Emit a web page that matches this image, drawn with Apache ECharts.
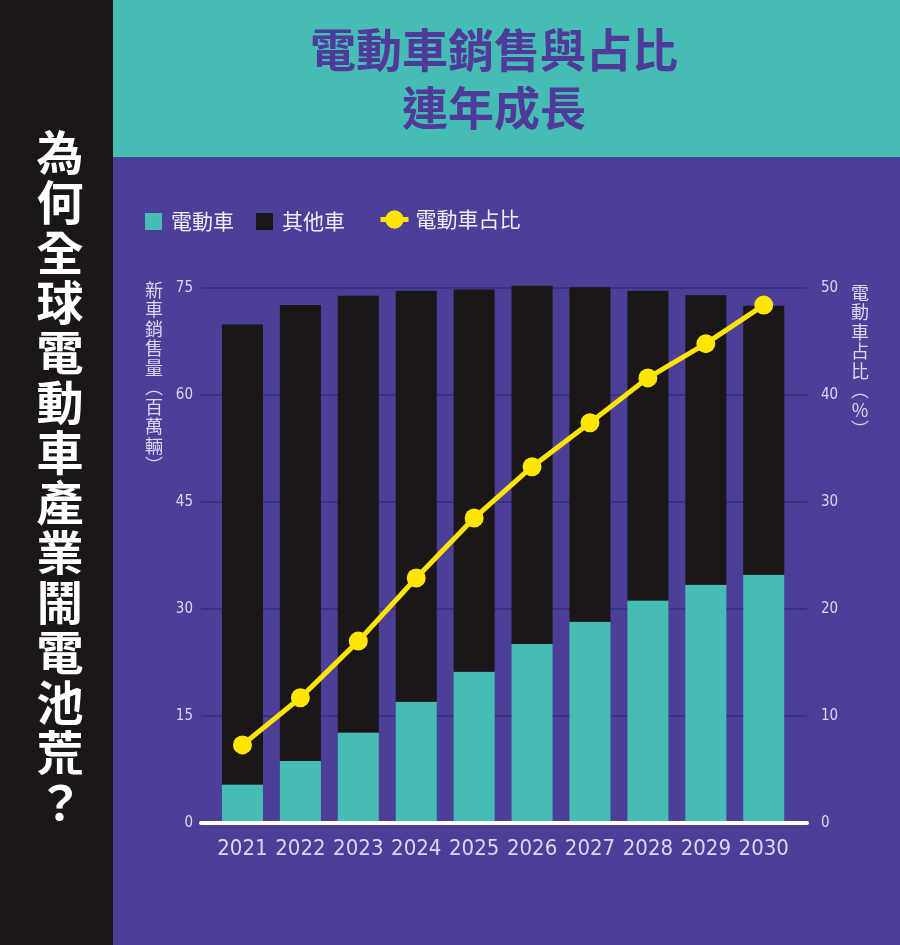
<!DOCTYPE html>
<html>
<head>
<meta charset="utf-8">
<script src="https://cdn.jsdelivr.net/npm/echarts@6/dist/echarts.min.js"></script>
<style>
  html, body { margin: 0; padding: 0; background: #4b3f98; }
  #chart { width: 900px; height: 945px; }
</style>
</head>
<body>
<div id="chart"></div>
<script>
// ---- Data ----
var years = ['2021', '2022', '2023', '2024', '2025', '2026', '2027', '2028', '2029', '2030'];
var evSales = [5.4, 8.7, 12.7, 17.0, 21.2, 25.1, 28.2, 31.2, 33.4, 34.8];      // 電動車 (百萬輛)
var otherSales = [64.5, 63.9, 61.2, 57.6, 53.6, 50.2, 46.9, 43.4, 40.6, 37.7]; // 其他車 (百萬輛)
var evShare = [7.3, 11.7, 17.0, 22.9, 28.5, 33.3, 37.4, 41.6, 44.8, 48.4];     // 電動車占比 (%)
var leftTicks = { min: 0, max: 75, interval: 15 };
var rightTicks = { min: 0, max: 50, interval: 10 };

var titleText = '電動車銷售與占比\n連年成長';
var sideTitle = '為何全球電動車產業鬧電池荒？';
var leftName = '新車銷售量︵百萬輛︶';
var rightName = '電動車占比︵%︶';

// ---- Styles ----
var C_BG = '#4b3f98';
var C_TEAL = '#46bdb4';
var C_BLACK = '#1b1617';
var C_YELLOW = '#ffe500';
var C_LABEL = '#dcd6f4';
var C_GRID = '#3a3183';
var NUM_FONT = '"Liberation Sans Narrow", "DejaVu Sans Condensed", "Liberation Sans", sans-serif';
var CJK_FONT = '"Noto Sans CJK TC", "Noto Sans CJK SC", sans-serif';

function vert(s) { return Array.from(s).join('\n'); }

var chart = echarts.init(document.getElementById('chart'), null, { renderer: 'canvas' });

var option = {
  backgroundColor: C_BG,
  animation: false,
  graphic: [
    { type: 'rect', z: -10, shape: { x: 0, y: 0, width: 113, height: 945 }, style: { fill: C_BLACK } },
    { type: 'rect', z: -10, shape: { x: 113, y: 0, width: 787, height: 157 }, style: { fill: C_TEAL } },
    { type: 'text', z: 100, x: 494, y: 21,
      style: { text: titleText, textAlign: 'center', textVerticalAlign: 'top',
               fontSize: 46, fontWeight: 'bold', fontFamily: CJK_FONT, lineHeight: 58, fill: '#4f3a9a' } },
    { type: 'text', z: 100, x: 60, y: 127,
      style: { text: vert(sideTitle), textAlign: 'center', textVerticalAlign: 'top',
               fontSize: 47, fontWeight: 'bold', fontFamily: CJK_FONT, lineHeight: 50, fill: '#ffffff' } },
    { type: 'text', z: 100, x: 154, y: 280,
      style: { text: vert(leftName), textAlign: 'center', textVerticalAlign: 'top',
               fontSize: 18, fontFamily: CJK_FONT, lineHeight: 19.5, fill: C_LABEL } },
    { type: 'text', z: 100, x: 860, y: 283,
      style: { text: vert(rightName), textAlign: 'center', textVerticalAlign: 'top',
               fontSize: 18, fontFamily: CJK_FONT, lineHeight: 19.5, fill: C_LABEL } }
  ],
  legend: [
    { data: ['電動車', '其他車'], left: 145, top: 211, padding: 0, itemGap: 22,
      itemWidth: 17, itemHeight: 17, icon: 'rect',
      textStyle: { color: '#f0eefa', fontSize: 21, fontFamily: CJK_FONT, padding: [0, 0, 0, 4] } },
    { data: ['電動車占比'], left: 378, top: 209, padding: 0,
      itemWidth: 28, itemHeight: 23,
      lineStyle: { width: 5, color: C_YELLOW },
      textStyle: { color: '#f0eefa', fontSize: 21, fontFamily: CJK_FONT, padding: [0, 0, 0, 2] } }
  ],
  grid: [
    { left: 201, right: 93, top: 288, bottom: 122 },
    { left: 213.5, right: 107.3, top: 288, bottom: 122 }
  ],
  xAxis: [
    { type: 'category', gridIndex: 0, data: years, z: 5,
      axisLine: { show: true, lineStyle: { color: '#ffffff', width: 4 } },
      axisTick: { show: false }, axisLabel: { show: false }, splitLine: { show: false } },
    { type: 'category', gridIndex: 1, data: years,
      axisLine: { show: false }, axisTick: { show: false },
      axisLabel: { color: C_LABEL, fontSize: 22, fontFamily: NUM_FONT, margin: 15, interval: 0 } }
  ],
  yAxis: [
    { type: 'value', gridIndex: 0, position: 'left', min: leftTicks.min, max: leftTicks.max, interval: leftTicks.interval,
      axisLine: { show: false }, axisTick: { show: false },
      axisLabel: { color: C_LABEL, fontSize: 15, fontFamily: NUM_FONT, margin: 8 },
      splitLine: { show: true, lineStyle: { color: C_GRID, width: 2 } } },
    { type: 'value', gridIndex: 0, position: 'right', min: rightTicks.min, max: rightTicks.max, interval: rightTicks.interval,
      axisLine: { show: false }, axisTick: { show: false },
      axisLabel: { color: C_LABEL, fontSize: 15, fontFamily: NUM_FONT, margin: 14 },
      splitLine: { show: false } },
    { type: 'value', gridIndex: 1, position: 'left', min: leftTicks.min, max: leftTicks.max, interval: leftTicks.interval,
      show: false, splitLine: { show: false } },
    { type: 'value', gridIndex: 1, position: 'right', min: rightTicks.min, max: rightTicks.max, interval: rightTicks.interval,
      show: false, splitLine: { show: false } }
  ],
  series: [
    { name: '電動車', type: 'bar', stack: 'sales', xAxisIndex: 1, yAxisIndex: 2, clip: false,
      barWidth: 41, itemStyle: { color: C_TEAL }, data: evSales },
    { name: '其他車', type: 'bar', stack: 'sales', xAxisIndex: 1, yAxisIndex: 2, clip: false,
      barWidth: 41, itemStyle: { color: C_BLACK }, data: otherSales },
    { name: '電動車占比', type: 'line', xAxisIndex: 1, yAxisIndex: 3, z: 4, clip: false,
      symbol: 'circle', symbolSize: 19, showAllSymbol: true,
      lineStyle: { color: C_YELLOW, width: 5 }, itemStyle: { color: C_YELLOW },
      data: evShare }
  ]
};
chart.setOption(option);
</script>
</body>
</html>
